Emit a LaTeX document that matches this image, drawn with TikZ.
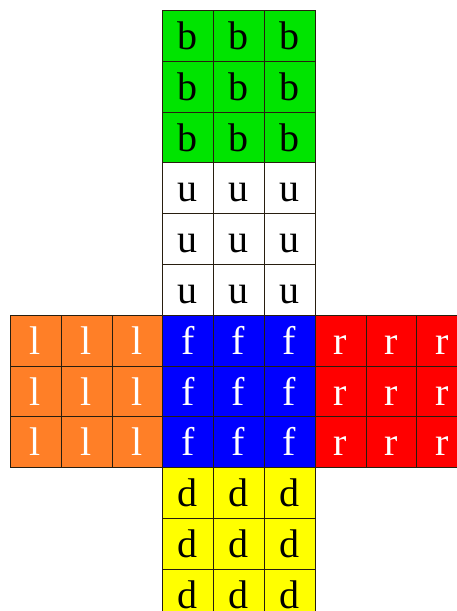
\documentclass[tikz,border=0pt]{standalone}
\usepackage{fontspec}
\setmainfont{Liberation Serif}
\definecolor{cgreen}{RGB}{0,228,0}
\definecolor{corange}{RGB}{255,127,39}
\definecolor{cblue}{RGB}{0,0,255}
\definecolor{cred}{RGB}{255,0,0}
\definecolor{cyellow}{RGB}{255,255,0}
\definecolor{cline}{RGB}{40,30,15}
\tikzset{
  cell/.style={draw=cline, line width=1pt, minimum size=50.8pt, inner sep=0pt, anchor=north west},
  lab/.style={inner sep=0pt, anchor=base, font=\fontsize{40}{40}\selectfont}
}
\newcommand\cubeface[6]{%
  \foreach \i in {0,1,2} {\foreach \j in {0,1,2} {%
    \node[cell, fill=#4] (#1-\i-\j) at ({#2+50.8*\j},{#3+50.8*\i}) {};
    \node[lab, text=#6] (#1-t-\i-\j) at ({#2+50.8*\j+25.4},{#3+50.8*\i+39.5}) {#5};
  }}%
}
\begin{document}
\begin{tikzpicture}[x=1pt,y=-1pt]
\useasboundingbox (0,0) rectangle (457,611);
\clip (0,0) rectangle (457,611);
\fill[white] (0,0) rectangle (457,611);
\cubeface{B}{162.4}{10}{cgreen}{b}{black}
\cubeface{U}{162.4}{162.4}{white}{u}{black}
\cubeface{L}{10}{314.8}{corange}{l}{white}
\cubeface{F}{162.4}{314.8}{cblue}{f}{white}
\cubeface{R}{314.8}{314.8}{cred}{r}{white}
\cubeface{D}{162.4}{467.2}{cyellow}{d}{black}
\end{tikzpicture}
\end{document}
